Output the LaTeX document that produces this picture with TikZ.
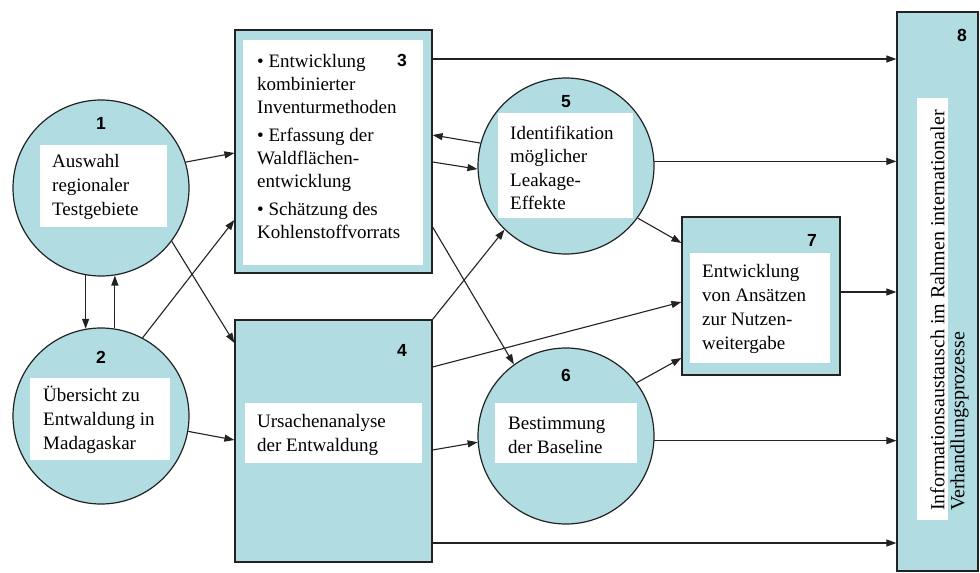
\documentclass[tikz,border=0pt]{standalone}
\usepackage{fontspec}
\setmainfont{Liberation Serif}
\newfontfamily\numfont{Liberation Sans}
\usetikzlibrary{arrows.meta,calc}
\definecolor{tealfill}{HTML}{B0DCE2}
\definecolor{linec}{HTML}{222222}
\begin{document}
\begin{tikzpicture}[x=1pt,y=-1pt,
  circ/.style={circle, draw=linec, line width=1.2pt, fill=tealfill, minimum size=176pt, inner sep=0pt},
  sq/.style={rectangle, draw=linec, line width=1.2pt, fill=tealfill, inner sep=0pt},
  wb/.style={rectangle, fill=white, inner sep=0pt},
  txt/.style={anchor=west, align=left, inner sep=0pt, font=\fontsize{19}{24}\selectfont},
  num/.style={inner sep=0pt, font=\numfont\bfseries\fontsize{17.5}{17.5}\selectfont},
  arr/.style={line width=1.1pt, draw=linec, -{Triangle[length=10pt,width=7pt]}}]
\useasboundingbox (0,0) rectangle (980,573);

% main shapes
\node[circ] (c1) at (101,188) {};
\node[circ] (c2) at (101,416) {};
\node[circ] (c5) at (566,166) {};
\node[circ] (c6) at (566,436) {};
\node[sq, minimum width=197pt, minimum height=243pt] (b3) at (333.5,151.5) {};
\node[sq, minimum width=197pt, minimum height=242pt] (b4) at (333.5,441) {};
\node[sq, minimum width=158pt, minimum height=158pt] (b7) at (761,296) {};
\node[sq, minimum width=81pt, minimum height=559pt] (b8) at (937.5,291.5) {};

% white text panels
\node[wb, minimum width=127pt, minimum height=82pt] (w1) at (103.5,186) {};
\node[wb, minimum width=140pt, minimum height=82pt] (w2) at (100,419) {};
\node[wb, minimum width=180pt, minimum height=225pt] (w3) at (333,152.5) {};
\node[wb, minimum width=177pt, minimum height=60pt] (w4) at (333.5,433) {};
\node[wb, minimum width=135pt, minimum height=105pt] (w5) at (565.5,165.5) {};
\node[wb, minimum width=142pt, minimum height=60pt] (w6) at (566,433) {};
\node[wb, minimum width=140pt, minimum height=110pt] (w7) at (760,308) {};
\node[wb, minimum width=31pt, minimum height=422pt] (w8) at (932.5,309) {};

% numbers
\node[num] (n1) at (101,123) {1};
\node[num] (n2) at (101,357) {2};
\node[num] (n3) at (402,60) {3};
\node[num] (n4) at (402,350) {4};
\node[num] (n5) at (566,102) {5};
\node[num] (n6) at (566,375) {6};
\node[num] (n7) at (812,240) {7};
\node[num] (n8) at (962,35) {8};

% texts
\node[txt] (t1) at (52,187) {Auswahl\\regionaler\\Testgebiete};
\node[txt] (t2) at (43,420) {Übersicht zu\\Entwaldung in\\Madagaskar};
\node[txt, font=\fontsize{19}{23}\selectfont] (t3) at (257,146) {• Entwicklung\\kombinierter\\Inventurmethoden\\[5pt]• Erfassung der\\Waldflächen-\\entwicklung\\[5pt]• Schätzung des\\Kohlenstoffvorrats};
\node[txt] (t4) at (257,435) {Ursachenanalyse\\der Entwaldung};
\node[txt, font=\fontsize{19}{23.5}\selectfont] (t5) at (510,168) {Identifikation\\möglicher\\Leakage-\\Effekte};
\node[txt] (t6) at (508,435) {Bestimmung\\der Baseline};
\node[txt] (t7) at (702,309) {Entwicklung\\von Ansätzen\\zur Nutzen-\\weitergabe};
\node[rotate=90, anchor=north west, align=left, inner sep=0pt, font=\fontsize{20}{20}\selectfont] (t8) at (930,511) {Informationsaustausch im Rahmen internationaler\\Verhandlungsprozesse};

% connectors
\draw[arr] (c1.260) -- (c2.100);
\draw[arr] (c2.81) -- (c1.279);
\draw[arr] (c1.17) -- (b3.west |- 0,153);
\draw[arr] (c2.62) -- (b3.west |- 0,220);
\draw[arr] (c1.-37) -- (b4.west |- 0,343);
\draw[arr] (c2.-10) -- (b4.west |- 0,440);
\draw[arr] (c5.165) -- (b3.east |- 0,135);
\draw[arr] (b3.east |- 0,162) -- (c5.182);
\draw[arr] (b3.east |- 0,227) -- (c6.126);
\draw[arr] (b4.north east) -- (c5.226);
\draw[arr] (b4.east |- 0,367) -- (b7.west |- 0,302);
\draw[arr] (b4.east |- 0,450) -- (c6.184);
\draw[arr] (c5.-36) -- (b7.west |- 0,243);
\draw[arr] (c6.37) -- (b7.west |- 0,358);
\draw[arr] (b3.east |- 0,59) -- (b8.west |- 0,59);
\draw[arr] (c5.3) -- (c5.3 -| b8.west);
\draw[arr] (b7.east |- 0,292) -- (b8.west |- 0,292);
\draw[arr] (c6.-3) -- (c6.-3 -| b8.west);
\draw[arr] (b4.east |- 0,543) -- (b8.west |- 0,543);
\end{tikzpicture}
\end{document}
